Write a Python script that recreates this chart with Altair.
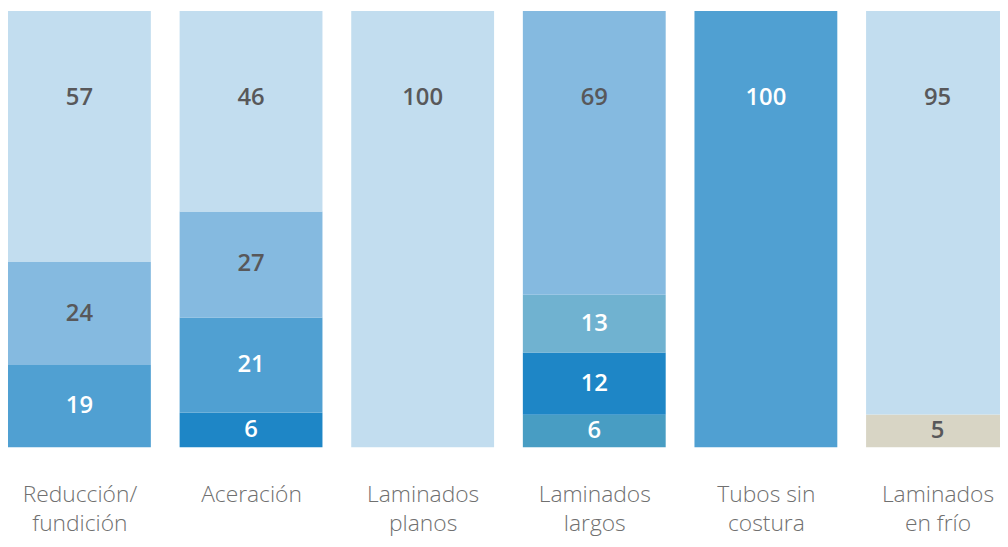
import json
import altair as alt
import pandas as pd

# Categories (a "|" marks the line break in the axis label)
categories = [
    "Reducción/|fundición",
    "Aceración",
    "Laminados|planos",
    "Laminados|largos",
    "Tubos sin|costura",
    "Laminados|en frío",
]

# Printed values per bar, from bottom to top (percent)
segment_values = [
    [19, 24, 57],
    [6, 21, 27, 46],
    [100],
    [6, 12, 13, 69],
    [100],
    [5, 95],
]

# Segment heights as drawn in the picture (percent of the bar), bottom to top
segment_heights = [
    [18.9, 23.6, 57.5],
    [8.0, 21.8, 24.3, 45.9],
    [100],
    [7.5, 14.3, 13.2, 65.0],
    [100],
    [7.6, 92.4],
]

# Segment fills per bar, from bottom to top
segment_colors = [
    ["#50A0D2", "#85BAE0", "#C2DDEF"],
    ["#1E86C6", "#50A0D2", "#85BAE0", "#C2DDEF"],
    ["#C2DDEF"],
    ["#489DC3", "#1E86C6", "#70B2D0", "#85BAE0"],
    ["#50A0D2"],
    ["#D8D5C5", "#C2DDEF"],
]

light_fills = {"#C2DDEF", "#85BAE0", "#D8D5C5"}

# Layout: one slot per category = 1 unit (173 px); bar occupies 144/173 of it
STEP_PX = 173
BAR_FRAC = 144 / STEP_PX
PLOT_W = 1000

rows = []
for idx, (cat, vals, hts, cols) in enumerate(
    zip(categories, segment_values, segment_heights, segment_colors)
):
    start = 0
    for i, (v, h, c) in enumerate(zip(vals, hts, cols)):
        end = start + h
        is_top = i == len(vals) - 1
        rows.append(
            dict(
                cat=cat,
                idx=idx,
                idx_end=idx + BAR_FRAC,
                center=idx + BAR_FRAC / 2,
                order=i,
                start=start,
                end=end,
                value=v,
                fill=c,
                label_pos=(end - 20) if is_top else (start + end) / 2,
                text_color="#58585A" if c in light_fills else "#FFFFFF",
            )
        )
        start = end

df = pd.DataFrame(rows)

names_js = json.dumps(categories, ensure_ascii=False)
x_axis = alt.Axis(
    title=None,
    values=[i + BAR_FRAC / 2 for i in range(len(categories))],
    labelExpr=f"split({names_js}[floor(datum.value)], '|')",
    ticks=False,
    domain=False,
    grid=False,
    labelPadding=36,
    labelFontSize=23,
    labelFont="Open Sans",
    labelFontWeight=300,
    labelColor="#707070",
    labelLineHeight=30,
    labelAngle=0,
    labelOverlap=False,
    labelFlush=False,
)
x_scale = alt.Scale(domain=[0, PLOT_W / STEP_PX], nice=False, zero=False)

bars = alt.Chart(df).mark_bar(clip=True).encode(
    x=alt.X("idx:Q", scale=x_scale, axis=x_axis),
    x2="idx_end:Q",
    y=alt.Y("start:Q", scale=alt.Scale(domain=[0, 100], nice=False), axis=None),
    y2="end:Q",
    color=alt.Color("fill:N", scale=None),
)

labels = alt.Chart(df).mark_text(
    font="Open Sans", fontSize=24, fontWeight=600, baseline="middle", align="center"
).encode(
    x=alt.X("center:Q", scale=x_scale, axis=x_axis),
    y=alt.Y("label_pos:Q"),
    text=alt.Text("value:Q"),
    color=alt.Color("text_color:N", scale=None),
)

chart = (
    alt.layer(bars, labels)
    .properties(
        width=PLOT_W,
        height=440,
        autosize=alt.AutoSizeParams(type="none"),
        padding={"top": 1, "left": 0, "right": 0, "bottom": 90},
    )
    .configure_view(stroke=None)
)

chart.save("out.html", embed_options={"renderer": "svg", "actions": False})
